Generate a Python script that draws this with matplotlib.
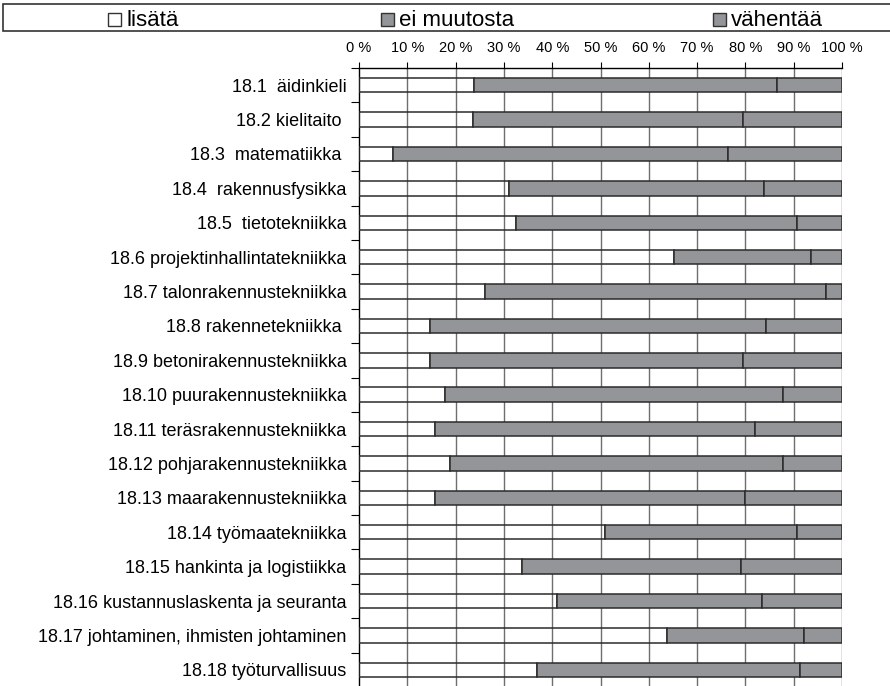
import numpy as np
import matplotlib.pyplot as plt
from matplotlib.patches import Rectangle
from matplotlib.ticker import FixedLocator, FuncFormatter

plt.rcParams['font.family'] = ['Liberation Sans', 'DejaVu Sans']

categories = [
    "18.1  äidinkieli",
    "18.2 kielitaito ",
    "18.3  matematiikka ",
    "18.4  rakennusfysikka",
    "18.5  tietotekniikka",
    "18.6 projektinhallintatekniikka",
    "18.7 talonrakennustekniikka",
    "18.8 rakennetekniikka ",
    "18.9 betonirakennustekniikka",
    "18.10 puurakennustekniikka",
    "18.11 teräsrakennustekniikka",
    "18.12 pohjarakennustekniikka",
    "18.13 maarakennustekniikka",
    "18.14 työmaatekniikka",
    "18.15 hankinta ja logistiikka",
    "18.16 kustannuslaskenta ja seuranta",
    "18.17 johtaminen, ihmisten johtaminen",
    "18.18 työturvallisuus",
]

# shares in percent
lisata = [23.9, 23.5, 7.0, 31.1, 32.6, 65.2, 26.0, 14.6, 14.7,
          17.9, 15.7, 18.8, 15.7, 51.0, 33.7, 41.0, 63.7, 36.9]
ei_muutosta = [62.6, 55.9, 69.5, 52.8, 58.0, 28.3, 70.6, 69.7, 64.9,
               69.8, 66.3, 69.0, 64.2, 39.6, 45.3, 42.5, 28.4, 54.5]
vahentaa = [13.5, 20.6, 23.5, 16.1, 9.4, 6.5, 3.4, 15.7, 20.4,
            12.3, 18.0, 12.2, 20.1, 9.4, 21.0, 16.5, 7.9, 8.6]

series_names = ["lisätä", "ei muutosta", "vähentää"]
gray = "#939598"
edge = "#2b2b2b"

fig = plt.figure(figsize=(8.9, 6.86), dpi=100)
ax = fig.add_axes([359 / 890, -1 / 686, 483 / 890, 619 / 686])

y = np.arange(len(categories))
h = 0.42

a = np.array(lisata)
b = np.array(ei_muutosta)
c = np.array(vahentaa)

ax.barh(y, a, height=h, facecolor="none", edgecolor=edge, linewidth=1.1, zorder=3)
ax.barh(y, b, left=a, height=h, facecolor=gray, edgecolor=edge, linewidth=1.1, zorder=3)
ax.barh(y, c, left=a + b, height=h, facecolor=gray, edgecolor=edge, linewidth=1.1, zorder=3)

ax.set_xlim(0, 100)
ax.set_ylim(len(categories) - 0.5, -0.5)

# vertical grid every 10 %
for xv in range(10, 101, 10):
    ax.axvline(xv, color="#6e6e6e", linewidth=1.0, zorder=1)

ax.xaxis.tick_top()
ax.set_xticks(range(0, 101, 10))
ax.xaxis.set_major_formatter(FuncFormatter(lambda v, p: f"{int(v)} %"))
ax.tick_params(axis="x", direction="out", length=4, width=0.8, pad=5,
               labelsize=10.5, colors="black")

ax.set_yticks(y)
ax.set_yticklabels(categories, fontsize=13)
ax.yaxis.set_minor_locator(FixedLocator(np.arange(-0.5, len(categories), 1)))
ax.tick_params(axis="y", which="major", length=0, pad=9)
ax.tick_params(axis="y", which="minor", direction="out", length=6, width=0.8)

for side in ["right", "bottom"]:
    ax.spines[side].set_visible(False)
ax.spines["top"].set_linewidth(1.0)
ax.spines["left"].set_linewidth(1.0)

# legend row across the top
fig.patches.append(Rectangle((3 / 890, 1 - 31 / 686), 1.01, 27 / 686,
                             transform=fig.transFigure, facecolor="white",
                             edgecolor="#333333", linewidth=1.2))
legend_x = [108, 381, 713]
fills = ["white", gray, gray]
for lx, name, fc in zip(legend_x, series_names, fills):
    fig.patches.append(Rectangle((lx / 890, 1 - 26 / 686), 13 / 890, 13 / 686,
                                 transform=fig.transFigure, facecolor=fc,
                                 edgecolor="#333333", linewidth=1.0))
    fig.text((lx + 18) / 890, 1 - 26.5 / 686, name, fontsize=16,
             va="baseline", ha="left")

fig.savefig("out.png", dpi=100)
